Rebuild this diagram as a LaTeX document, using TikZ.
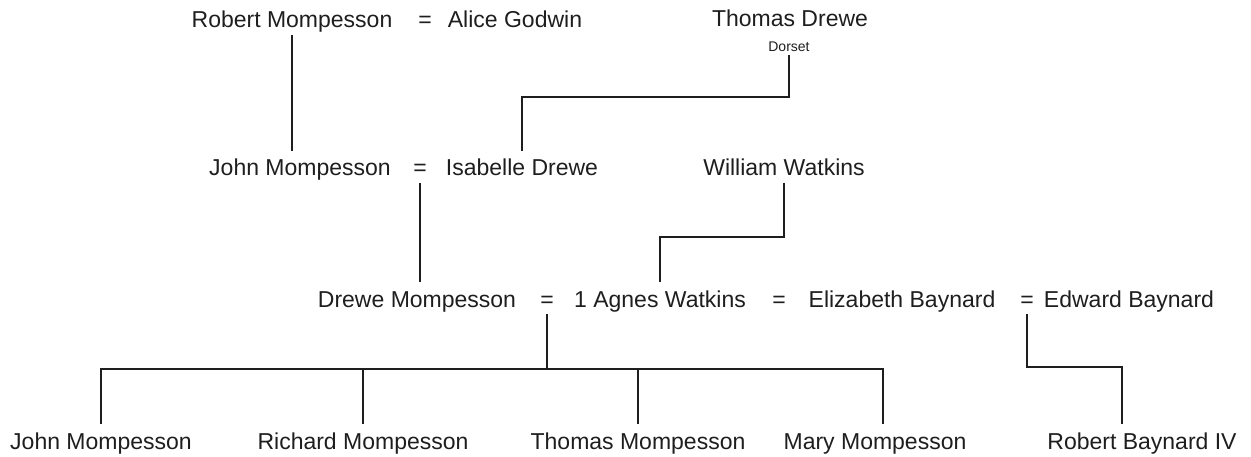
\documentclass[tikz,border=0pt]{standalone}
\usepackage{fontspec}
\setmainfont{Liberation Sans}
\usetikzlibrary{calc}
\definecolor{ink}{HTML}{1E1E1E}
\begin{document}
\begin{tikzpicture}[x=1pt,y=-1pt,
  person/.style={anchor=base,inner xsep=0pt,inner ysep=2pt,outer sep=0pt,
    text height=23pt,text depth=5pt,text=ink,font=\fontsize{23}{27}\selectfont},
  small/.style={anchor=base,inner xsep=0pt,inner ysep=3pt,outer sep=0pt,
    text depth=0pt,text=ink,font=\fontsize{14}{16}\selectfont},
  link/.style={draw=ink,line width=1.2pt}]
\useasboundingbox (0,0) rectangle (1251,457);
% generation 1
\node[person] (rob) at (292,28) {Robert Mompesson};
\node[person] (eq1) at (425,28) {=};
\node[person] (alice) at (515,28) {Alice Godwin};
\node[person] (thomas) at (790,27) {Thomas Drewe};
\node[small] (dorset) at (789,52) {Dorset};
% generation 2
\node[person] (john2) at (300,176) {John Mompesson};
\node[person] (eq2) at (420,176) {=};
\node[person] (isabelle) at (522,176) {Isabelle Drewe};
\node[person] (william) at (784,176) {William Watkins};
% generation 3
\node[person] (drewe) at (417,307) {Drewe Mompesson};
\node[person] (eq3) at (547,307) {=};
\node[person] (agnes) at (660,307) {1 Agnes Watkins};
\node[person] (eq4) at (779,307) {=};
\node[person] (eliz) at (902,307) {Elizabeth Baynard};
\node[person] (eq5) at (1027,307) {=};
\node[person] (edward) at (1129,307) {Edward Baynard};
% generation 4
\node[person] (john4) at (101,449) {John Mompesson};
\node[person] (richard) at (363,449) {Richard Mompesson};
\node[person] (thomas4) at (638,449) {Thomas Mompesson};
\node[person] (mary) at (875,449) {Mary Mompesson};
\node[person] (rb4) at (1142,449) {Robert Baynard IV};
% bus levels
\coordinate (k1) at (0,97);
\coordinate (k2) at (0,237);
\coordinate (k3) at (0,369);
\coordinate (k4) at (0,367);
\coordinate (md) at ($(mary.north)+(8,0)$);
\coordinate (rbd) at ($(rb4.north)+(-20,0)$);
% connectors
\draw[link] (rob.south) -- (rob.south |- john2.north);
\draw[link] (dorset.south) -- (dorset.south |- k1) -| (isabelle.north);
\draw[link] (eq2.south) -- (eq2.south |- drewe.north);
\draw[link] (william.south) -- (william.south |- k2) -| (agnes.north);
\draw[link] (eq3.south) -- (eq3.south |- k3);
\draw[link] (john4.north) |- (eq3.south |- k3) -| (md);
\draw[link] (richard.north) -- (richard.north |- k3);
\draw[link] (thomas4.north) -- (thomas4.north |- k3);
\draw[link] (eq5.south) |- (k4 -| rbd) -- (rbd);
\end{tikzpicture}
\end{document}
